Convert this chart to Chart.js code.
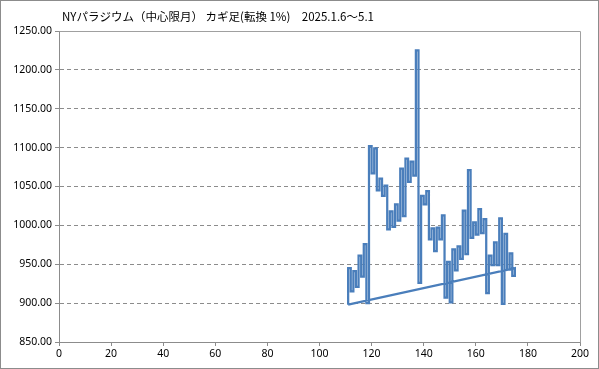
<!DOCTYPE html>
<html>
<head>
<meta charset="utf-8">
<script src="https://cdn.jsdelivr.net/npm/chart.js@4/dist/chart.umd.min.js"></script>
<style>
  body { margin: 0; background: #fff; }
</style>
</head>
<body>
<canvas id="myChart" width="599" height="369"></canvas>
<script>
var chartTitle = 'NYパラジウム（中心限月） カギ足(転換 1%)　2025.1.6～5.1';

// x position of each vertical kagi stroke
var kagiX = [111, 112, 113, 114, 115, 116, 117, 118, 119, 120,
  121, 122, 123, 124, 125, 126, 127, 128, 129, 130,
  131, 132, 133, 134, 135, 136, 137, 138, 139, 140,
  141, 142, 143, 144, 145, 146, 147, 148, 149, 150,
  151, 152, 153, 154, 155, 156, 157, 158, 159, 160,
  161, 162, 163, 164, 165, 166, 167, 168, 169, 170,
  171, 172, 173, 174, 175];

// turning prices (first one is the starting price)
var kagiLevels = [898, 945, 915, 941, 921, 961, 934, 976, 900, 1102,
  1067, 1099, 1045, 1060, 1038, 1051, 995, 1018, 998, 1027,
  1006, 1073, 1012, 1086, 1056, 1082, 1064, 1225, 926, 1038,
  1027, 1044, 982, 996, 967, 997, 982, 1013, 907, 953,
  901, 969, 942, 973, 957, 1019, 963, 1071, 984, 1004,
  988, 1021, 990, 1008, 913, 961, 949, 978, 949, 1009,
  899, 989, 943, 964, 935, 945];

var xTicks = [0, 20, 40, 60, 80, 100, 120, 140, 160, 180, 200];
var yTicks = [850, 900, 950, 1000, 1050, 1100, 1150, 1200, 1250];

var pts = [];
for (var i = 0; i < kagiX.length; i++) {
  pts.push({x: kagiX[i], y: kagiLevels[i]});
  pts.push({x: kagiX[i], y: kagiLevels[i + 1]});
}
// series closes back on its first point
pts.push(pts[0]);

var frame = {
  id: 'frame',
  beforeDatasetsDraw: function(chart) {
    var c = chart.ctx, a = chart.chartArea;
    c.save();
    c.strokeStyle = '#a0a0a0';
    c.lineWidth = 1;
    c.beginPath();
    c.moveTo(Math.round(a.left) + 0.5, Math.round(a.top) + 0.5);
    c.lineTo(Math.round(a.right) + 0.5, Math.round(a.top) + 0.5);
    c.lineTo(Math.round(a.right) + 0.5, Math.round(a.bottom) + 0.5);
    c.stroke();
    c.restore();
  },
  afterDraw: function(chart) {
    var c = chart.ctx;
    c.save();
    c.strokeStyle = '#8c8c8c';
    c.lineWidth = 1;
    c.strokeRect(0.5, 0.5, chart.width - 1, chart.height - 1);
    c.fillStyle = '#000';
    c.font = '11.5px "Noto Sans CJK JP"';
    c.textBaseline = 'middle';
    c.fillText(chartTitle, 62, 17);
    c.restore();
  }
};

var ctx = document.getElementById('myChart');
var tickFont = {family: '"Noto Sans", "Noto Sans CJK JP"', size: 10.5};

var myChart = new Chart(ctx, {
  type: 'scatter',
  data: {
    datasets: [{
      data: pts,
      showLine: true,
      borderColor: '#4a7ebb',
      borderWidth: 2.25,
      pointRadius: 0,
      pointHoverRadius: 0,
      tension: 0
    }]
  },
  options: {
    responsive: false,
    animation: false,
    layout: {padding: {top: 31, right: 19, left: 8, bottom: 5}},
    plugins: {legend: {display: false}, tooltip: {enabled: false}},
    scales: {
      x: {
        type: 'linear',
        min: 0, max: 200,
        afterFit: function(s) { s.height = 22; },
        afterBuildTicks: function(s) { s.ticks = xTicks.map(function(v) { return {value: v}; }); },
        grid: {drawOnChartArea: false, drawTicks: true, tickLength: 4, tickColor: '#8c8c8c'},
        border: {color: '#8c8c8c'},
        ticks: {color: '#000', font: tickFont, padding: 2, maxRotation: 0}
      },
      y: {
        type: 'linear',
        min: 850, max: 1250,
        afterFit: function(s) { s.width = 51; },
        afterBuildTicks: function(s) { s.ticks = yTicks.map(function(v) { return {value: v}; }); },
        grid: {color: '#8c8c8c', tickLength: 4, tickColor: '#8c8c8c', tickBorderDash: []},
        border: {color: '#8c8c8c', dash: [4, 3]},
        ticks: {
          color: '#000', font: tickFont, padding: 3,
          callback: function(v) { return v.toFixed(2); }
        }
      }
    }
  },
  plugins: [frame]
});
</script>
</body>
</html>
